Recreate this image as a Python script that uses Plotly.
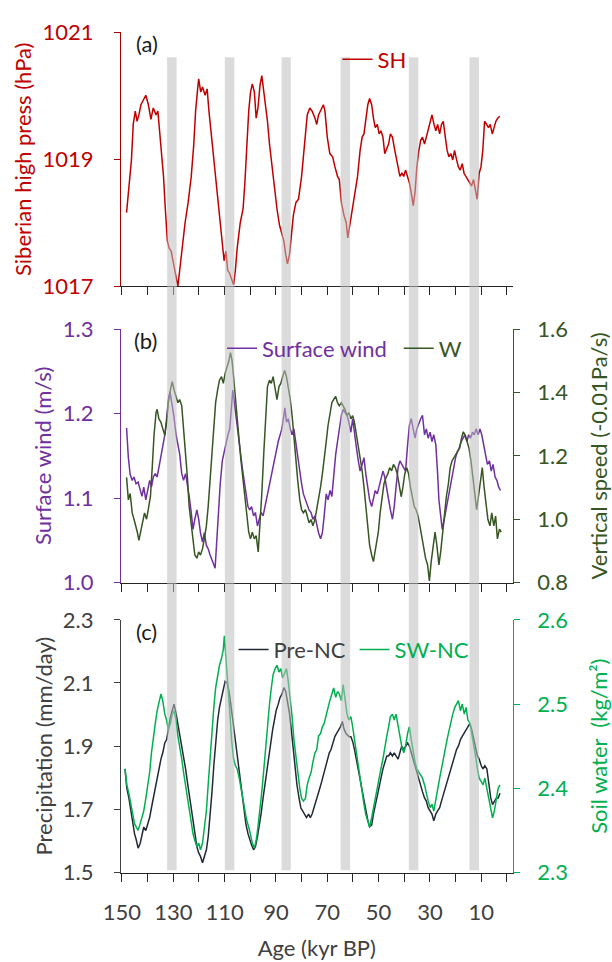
import plotly.graph_objects as go

W, H = 612, 962

# ---------------- data (age in kyr BP) ----------------
sh_age = [148.2, 147.1, 146.3, 145.6, 144.8, 144.1, 143.4, 142.6, 141.6, 140.7,
          139.7, 138.7, 137.8, 136.7, 136.0, 135.3, 134.5, 133.8, 133.1, 132.3,
          131.6, 130.8, 130.1, 129.4, 128.6, 128.2, 127.5, 126.4, 125.4, 124.2,
          123.0, 122.0, 121.3, 120.5, 120.1, 119.3, 118.6, 117.6, 116.8, 116.1,
          115.1, 114.2, 113.2, 112.4, 111.7, 111.0, 110.2, 109.5, 108.8, 108.0,
          107.3, 106.5, 105.8, 105.1, 103.9, 102.8, 102.1, 101.4, 100.6, 99.9,
          99.2, 98.4, 97.7, 97.0, 96.2, 95.5, 94.8, 94.0, 93.3, 92.5,
          91.8, 91.1, 90.3, 89.6, 88.6, 87.7, 86.9, 86.2, 85.5, 84.7,
          84.1, 83.2, 82.2, 81.2, 80.0, 78.8, 77.8, 76.8, 75.9, 74.8,
          74.1, 73.4, 72.6, 71.5, 70.9, 70.0, 69.0, 67.9, 67.0, 66.0,
          65.3, 64.5, 63.5, 62.6, 62.0, 61.4, 60.6, 59.4, 58.2, 57.2,
          56.4, 55.7, 55.0, 54.2, 53.5, 52.7, 52.0, 51.3, 50.5, 49.8,
          49.1, 48.3, 47.6, 46.8, 46.1, 45.4, 44.6, 43.9, 43.2, 42.4,
          41.7, 40.9, 40.2, 39.5, 38.8, 38.0, 37.3, 36.5, 35.8, 35.1,
          34.3, 33.6, 32.9, 32.1, 31.4, 30.7, 29.9, 29.2, 28.4, 27.7,
          27.0, 26.2, 25.5, 24.8, 24.0, 23.3, 22.6, 21.8, 21.1, 20.4,
          19.6, 18.9, 18.2, 17.4, 16.7, 16.0, 15.2, 14.5, 13.8, 13.0,
          12.3, 11.6, 10.8, 10.1, 9.4, 8.7, 7.9, 7.2, 6.5, 5.7,
          5.0, 4.3, 3.5, 2.8]
sh_hpa = [1018.16, 1018.63, 1018.99, 1019.55, 1019.76, 1019.60, 1019.70, 1019.86, 1019.93, 1020.01,
          1019.86, 1019.63, 1019.81, 1019.70, 1019.76, 1019.45, 1019.14, 1018.73, 1018.22, 1017.71,
          1017.60, 1017.55, 1017.40, 1017.25, 1017.04, 1017.00, 1017.25, 1017.70, 1018.00, 1018.32,
          1018.73, 1019.24, 1019.76, 1020.11, 1020.27, 1020.06, 1020.14, 1020.01, 1020.11, 1019.76,
          1019.35, 1018.99, 1018.58, 1018.32, 1018.00, 1017.70, 1017.40, 1017.55, 1017.25, 1017.20,
          1017.10, 1017.02, 1017.25, 1017.60, 1018.00, 1018.22, 1018.63, 1019.24, 1019.76, 1020.06,
          1020.19, 1020.06, 1019.65, 1019.81, 1020.17, 1020.32, 1020.11, 1019.86, 1019.60, 1019.24,
          1018.99, 1018.73, 1018.48, 1018.22, 1017.96, 1017.81, 1017.71, 1017.50, 1017.35, 1017.50,
          1017.71, 1018.12, 1018.32, 1018.37, 1018.73, 1019.24, 1019.70, 1019.81, 1019.76, 1019.65,
          1019.55, 1019.70, 1019.76, 1019.86, 1019.76, 1019.35, 1019.09, 1019.04, 1018.88, 1018.73,
          1018.68, 1018.32, 1018.12, 1018.00, 1017.76, 1017.91, 1018.12, 1018.48, 1018.73, 1019.14,
          1019.35, 1019.40, 1019.60, 1019.86, 1019.96, 1019.86, 1019.65, 1019.50, 1019.55, 1019.40,
          1019.45, 1019.35, 1019.09, 1019.19, 1019.24, 1019.40, 1019.35, 1019.19, 1019.04, 1018.88,
          1018.73, 1018.78, 1018.73, 1018.83, 1018.73, 1018.63, 1018.48, 1018.27, 1018.48, 1018.88,
          1019.14, 1019.30, 1019.35, 1019.24, 1019.35, 1019.45, 1019.60, 1019.70, 1019.55, 1019.45,
          1019.55, 1019.40, 1019.55, 1019.60, 1019.35, 1019.14, 1019.04, 1019.09, 1018.99, 1019.14,
          1018.99, 1018.88, 1018.83, 1018.93, 1018.78, 1018.73, 1018.68, 1018.63, 1018.58, 1018.68,
          1018.53, 1018.37, 1018.78, 1018.88, 1019.14, 1019.60, 1019.55, 1019.50, 1019.55, 1019.40,
          1019.50, 1019.60, 1019.65, 1019.68]

wind_age = [148.2, 147.5, 146.8, 146.0, 145.3, 144.5, 143.7, 142.9, 142.2, 141.5,
            140.7, 140.0, 139.2, 138.5, 137.8, 137.0, 136.3, 135.6, 134.8, 134.1,
            133.3, 132.6, 131.9, 131.3, 130.5, 129.8, 128.9, 128.2, 127.5, 126.7,
            126.0, 125.2, 124.5, 123.8, 123.0, 122.3, 121.6, 120.8, 120.1, 119.4,
            118.6, 117.9, 117.1, 116.4, 115.7, 114.9, 114.2, 113.7, 113.2, 112.4,
            111.7, 110.9, 110.2, 109.5, 108.7, 108.0, 107.3, 106.8, 106.2, 105.5,
            104.8, 103.9, 103.1, 102.4, 101.7, 100.9, 100.2, 99.5, 98.7, 98.0,
            97.2, 96.5, 95.8, 95.0, 94.3, 93.6, 92.8, 92.1, 91.3, 90.6,
            89.9, 89.1, 88.4, 87.7, 86.9, 86.5, 85.9, 85.2, 84.4, 83.7,
            83.0, 82.2, 81.5, 80.7, 80.0, 79.3, 78.5, 77.8, 77.1, 76.3,
            75.6, 74.8, 74.1, 73.4, 72.6, 71.9, 71.2, 70.4, 69.7, 68.9,
            68.2, 67.5, 66.7, 66.0, 65.3, 64.5, 63.8, 63.1, 62.3, 61.6,
            60.8, 60.1, 59.4, 58.6, 57.9, 57.2, 56.4, 55.7, 55.0, 54.2,
            53.5, 52.7, 52.0, 51.3, 50.5, 49.8, 49.1, 48.3, 47.6, 46.8,
            46.1, 45.4, 44.6, 43.9, 43.2, 42.4, 41.7, 41.0, 40.2, 39.5,
            38.7, 38.0, 37.3, 36.5, 35.8, 35.1, 34.3, 33.6, 32.9, 32.1,
            31.4, 30.7, 29.9, 29.2, 28.5, 27.7, 27.0, 26.5, 25.8, 25.2,
            24.4, 23.7, 23.0, 22.2, 21.5, 20.8, 20.0, 19.3, 18.6, 17.8,
            17.1, 16.4, 15.6, 14.9, 14.2, 13.4, 12.7, 12.0, 11.2, 10.5,
            9.8, 9.0, 8.3, 7.6, 6.8, 6.1, 5.4, 4.6, 3.9, 3.2,
            2.5]
wind_ms = [1.183, 1.148, 1.128, 1.121, 1.125, 1.117, 1.119, 1.109, 1.102, 1.113,
           1.098, 1.109, 1.121, 1.113, 1.125, 1.129, 1.125, 1.136, 1.148, 1.163,
           1.175, 1.194, 1.217, 1.226, 1.213, 1.198, 1.175, 1.163, 1.152, 1.129,
           1.121, 1.129, 1.117, 1.102, 1.083, 1.063, 1.075, 1.086, 1.075, 1.059,
           1.048, 1.059, 1.044, 1.040, 1.033, 1.025, 1.021, 1.017, 1.044, 1.079,
           1.117, 1.144, 1.155, 1.163, 1.175, 1.182, 1.213, 1.228, 1.213, 1.194,
           1.175, 1.155, 1.136, 1.121, 1.105, 1.090, 1.086, 1.090, 1.079, 1.083,
           1.067, 1.075, 1.083, 1.079, 1.090, 1.098, 1.113, 1.121, 1.136, 1.144,
           1.155, 1.167, 1.175, 1.182, 1.198, 1.207, 1.190, 1.194, 1.182, 1.175,
           1.182, 1.163, 1.148, 1.132, 1.117, 1.105, 1.098, 1.090, 1.086, 1.083,
           1.075, 1.079, 1.067, 1.059, 1.052, 1.059, 1.079, 1.105, 1.098, 1.109,
           1.102, 1.129, 1.152, 1.167, 1.182, 1.198, 1.205, 1.201, 1.198, 1.190,
           1.178, 1.194, 1.175, 1.159, 1.144, 1.132, 1.140, 1.148, 1.129, 1.113,
           1.098, 1.090, 1.098, 1.109, 1.105, 1.113, 1.121, 1.132, 1.125, 1.109,
           1.098, 1.086, 1.075, 1.090, 1.113, 1.136, 1.144, 1.140, 1.136, 1.132,
           1.163, 1.186, 1.194, 1.182, 1.171, 1.182, 1.190, 1.194, 1.198, 1.175,
           1.182, 1.171, 1.178, 1.167, 1.175, 1.163, 1.129, 1.098, 1.079, 1.063,
           1.075, 1.086, 1.098, 1.113, 1.125, 1.136, 1.148, 1.155, 1.159, 1.167,
           1.171, 1.175, 1.167, 1.175, 1.171, 1.178, 1.175, 1.182, 1.175, 1.182,
           1.175, 1.163, 1.148, 1.140, 1.144, 1.132, 1.140, 1.125, 1.121, 1.113,
           1.109]

w_age = [148.2, 147.5, 146.8, 146.0, 145.3, 144.5, 144.0, 143.4, 142.6, 141.9,
         141.2, 140.4, 139.7, 138.9, 138.2, 137.5, 136.7, 136.3, 135.6, 134.8,
         134.1, 133.3, 132.6, 131.9, 131.1, 130.4, 129.7, 128.9, 128.2, 127.5,
         126.7, 126.0, 125.2, 124.5, 123.8, 123.0, 122.3, 121.6, 120.8, 120.1,
         119.4, 118.6, 117.9, 117.1, 116.4, 115.7, 114.9, 114.2, 113.5, 112.7,
         112.0, 111.2, 110.5, 109.8, 109.0, 108.3, 107.7, 107.1, 106.5, 105.8,
         105.1, 104.3, 103.6, 102.8, 102.1, 101.4, 100.6, 99.9, 99.2, 98.4,
         97.7, 96.9, 96.2, 95.5, 94.7, 94.0, 93.3, 92.5, 91.8, 91.1,
         90.3, 89.6, 88.8, 88.1, 87.4, 86.6, 85.9, 85.2, 84.4, 83.7,
         83.0, 82.2, 81.5, 80.7, 80.0, 79.3, 78.5, 77.8, 77.1, 76.3,
         75.6, 74.8, 74.1, 73.4, 72.6, 71.9, 71.2, 70.4, 69.7, 69.0,
         68.2, 67.5, 66.7, 66.0, 65.3, 64.5, 63.8, 63.1, 62.3, 61.6,
         60.8, 60.1, 59.4, 58.6, 57.9, 57.2, 56.4, 55.7, 55.0, 54.2,
         53.5, 52.7, 52.0, 51.6, 50.8, 50.1, 49.4, 48.6, 47.9, 47.1,
         46.4, 45.7, 44.9, 44.2, 43.5, 42.7, 42.0, 41.2, 40.5, 39.8,
         39.0, 38.3, 37.6, 36.8, 36.1, 35.4, 34.6, 33.9, 33.1, 32.4,
         31.7, 30.9, 30.2, 29.5, 28.7, 28.0, 27.3, 26.5, 25.8, 25.0,
         24.3, 23.6, 22.8, 22.1, 21.4, 20.6, 19.9, 19.2, 18.4, 17.7,
         17.0, 16.2, 15.5, 14.8, 14.0, 13.3, 12.6, 11.8, 11.1, 10.4,
         9.6, 8.9, 8.1, 7.4, 6.6, 5.9, 5.1, 4.4, 3.7, 2.9,
         2.2]
w_speed = [1.132, 1.061, 1.081, 1.020, 1.000, 0.979, 0.959, 0.933, 0.969, 0.989,
           1.020, 1.000, 1.030, 1.071, 1.163, 1.265, 1.337, 1.347, 1.317, 1.306,
           1.286, 1.265, 1.306, 1.368, 1.409, 1.434, 1.409, 1.388, 1.368, 1.378,
           1.358, 1.286, 1.214, 1.132, 1.040, 0.979, 0.918, 0.887, 0.877, 0.897,
           0.887, 0.907, 0.938, 0.979, 1.040, 1.122, 1.214, 1.296, 1.368, 1.409,
           1.439, 1.450, 1.429, 1.460, 1.480, 1.501, 1.526, 1.501, 1.450, 1.378,
           1.317, 1.245, 1.184, 1.122, 1.061, 1.010, 0.959, 0.938, 0.959, 0.938,
           0.948, 0.897, 0.979, 1.081, 1.214, 1.317, 1.419, 1.439, 1.429, 1.450,
           1.409, 1.378, 1.419, 1.429, 1.450, 1.470, 1.450, 1.419, 1.378, 1.327,
           1.255, 1.184, 1.122, 1.061, 1.030, 1.020, 1.030, 1.010, 0.989, 0.999,
           0.979, 0.999, 1.030, 1.061, 1.102, 1.143, 1.184, 1.245, 1.296, 1.337,
           1.368, 1.378, 1.388, 1.368, 1.358, 1.368, 1.358, 1.347, 1.327, 1.337,
           1.317, 1.327, 1.306, 1.265, 1.225, 1.194, 1.153, 1.102, 1.040, 0.979,
           0.918, 0.887, 0.866, 0.887, 0.928, 0.959, 1.020, 1.071, 1.112, 1.132,
           1.143, 1.163, 1.153, 1.173, 1.163, 1.143, 1.112, 1.071, 1.102, 1.143,
           1.163, 1.143, 1.102, 1.071, 1.040, 1.030, 1.010, 0.979, 0.938, 0.907,
           0.877, 0.856, 0.805, 0.866, 0.918, 0.959, 0.918, 0.856, 0.897, 0.959,
           1.020, 1.071, 1.112, 1.163, 1.184, 1.194, 1.204, 1.214, 1.225, 1.255,
           1.276, 1.265, 1.245, 1.225, 1.184, 1.132, 1.081, 1.030, 1.071, 1.122,
           1.163, 1.102, 1.040, 0.999, 0.979, 1.020, 0.979, 1.010, 0.938, 0.969,
           0.959]

pre_age = [148.8, 148.1, 147.3, 146.6, 145.9, 145.1, 144.4, 143.7, 142.9, 142.2,
           141.5, 140.7, 140.0, 139.2, 138.5, 137.8, 137.0, 136.3, 135.6, 134.8,
           134.1, 133.3, 132.6, 131.9, 131.1, 130.4, 129.7, 128.9, 128.2, 127.5,
           126.7, 126.0, 125.2, 124.5, 123.8, 123.0, 122.3, 121.6, 120.8, 120.1,
           119.4, 118.6, 117.9, 117.1, 116.4, 115.7, 114.9, 114.2, 113.5, 112.7,
           112.0, 111.2, 110.5, 109.8, 109.0, 108.3, 107.6, 106.8, 106.1, 105.3,
           104.6, 103.9, 103.1, 102.4, 101.7, 100.9, 100.2, 99.5, 98.7, 98.0,
           97.2, 96.5, 95.8, 95.0, 94.3, 93.6, 92.8, 92.1, 91.3, 90.6,
           89.9, 89.1, 88.4, 87.7, 86.9, 86.2, 85.5, 84.7, 84.0, 83.2,
           82.5, 81.8, 81.0, 80.3, 79.6, 78.8, 78.1, 77.3, 76.6, 75.9,
           75.1, 74.4, 73.7, 72.9, 72.2, 71.5, 70.7, 70.0, 69.2, 68.5,
           67.8, 67.0, 66.3, 65.6, 64.8, 64.1, 63.5, 62.7, 62.0, 61.4,
           60.8, 60.1, 59.4, 58.6, 57.9, 57.2, 56.4, 55.7, 55.0, 54.2,
           53.5, 52.7, 52.0, 51.3, 50.5, 49.8, 49.1, 48.3, 47.6, 46.8,
           46.1, 45.4, 44.6, 43.9, 43.2, 42.4, 41.7, 41.0, 40.2, 39.5,
           38.7, 38.0, 37.3, 36.5, 35.8, 35.1, 34.3, 33.6, 32.9, 32.1,
           31.4, 30.7, 29.9, 29.2, 28.5, 27.7, 27.0, 26.2, 25.5, 24.8,
           24.0, 23.3, 22.5, 21.8, 21.1, 20.3, 19.6, 18.9, 18.1, 17.4,
           16.6, 15.9, 15.2, 14.4, 13.7, 13.0, 12.2, 11.5, 10.8, 10.0,
           9.3, 8.6, 7.8, 7.1, 6.3, 5.6, 4.9, 4.1, 3.4, 2.7]
pre_mm = [1.828, 1.767, 1.736, 1.695, 1.654, 1.623, 1.603, 1.577, 1.592, 1.623,
          1.644, 1.633, 1.654, 1.674, 1.705, 1.736, 1.767, 1.797, 1.828, 1.859,
          1.879, 1.910, 1.921, 1.962, 1.992, 2.013, 2.033, 2.003, 1.972, 1.941,
          1.900, 1.869, 1.828, 1.787, 1.746, 1.695, 1.654, 1.613, 1.582, 1.562,
          1.551, 1.531, 1.551, 1.572, 1.613, 1.674, 1.756, 1.838, 1.921, 1.982,
          2.023, 2.054, 2.085, 2.105, 2.100, 2.074, 2.033, 1.982, 1.931, 1.890,
          1.838, 1.787, 1.736, 1.695, 1.654, 1.623, 1.603, 1.587, 1.572, 1.582,
          1.613, 1.644, 1.685, 1.736, 1.777, 1.828, 1.869, 1.910, 1.951, 1.982,
          2.013, 2.033, 2.054, 2.064, 2.085, 2.074, 2.044, 2.003, 1.951, 1.890,
          1.828, 1.777, 1.736, 1.705, 1.695, 1.685, 1.674, 1.685, 1.674, 1.685,
          1.705, 1.726, 1.746, 1.767, 1.787, 1.808, 1.828, 1.849, 1.879, 1.890,
          1.910, 1.931, 1.941, 1.951, 1.962, 1.978, 1.955, 1.940, 1.935, 1.930,
          1.930, 1.915, 1.890, 1.855, 1.820, 1.785, 1.750, 1.720, 1.690, 1.665,
          1.645, 1.650, 1.685, 1.715, 1.746, 1.767, 1.797, 1.828, 1.849, 1.869,
          1.869, 1.879, 1.869, 1.879, 1.869, 1.859, 1.879, 1.900, 1.890, 1.900,
          1.910, 1.900, 1.879, 1.859, 1.838, 1.818, 1.797, 1.777, 1.756, 1.736,
          1.726, 1.705, 1.695, 1.685, 1.664, 1.685, 1.695, 1.705, 1.726, 1.746,
          1.767, 1.787, 1.808, 1.828, 1.849, 1.869, 1.890, 1.900, 1.921, 1.931,
          1.941, 1.951, 1.962, 1.972, 1.951, 1.921, 1.890, 1.869, 1.859, 1.838,
          1.828, 1.838, 1.828, 1.777, 1.736, 1.715, 1.726, 1.736, 1.736, 1.751]

sw_age = [148.8, 148.1, 147.3, 146.6, 145.9, 145.1, 144.4, 143.7, 142.9, 142.2,
          141.5, 140.7, 140.0, 139.2, 138.5, 137.8, 137.0, 136.3, 135.6, 134.8,
          134.1, 133.3, 132.6, 131.9, 131.1, 130.4, 129.7, 128.9, 128.2, 127.5,
          126.7, 126.0, 125.2, 124.5, 123.8, 123.0, 122.3, 121.6, 120.8, 120.1,
          119.4, 118.6, 117.9, 117.1, 116.4, 115.7, 114.9, 114.2, 113.5, 112.7,
          112.0, 111.2, 110.5, 110.1, 109.5, 108.7, 108.0, 107.3, 106.5, 105.8,
          105.1, 104.3, 103.6, 102.8, 102.1, 101.4, 100.6, 99.9, 99.2, 98.4,
          97.7, 97.0, 96.2, 95.5, 94.7, 94.0, 93.3, 92.5, 91.8, 91.1,
          90.3, 89.6, 88.8, 88.1, 87.4, 86.6, 85.9, 85.2, 84.4, 83.7,
          83.0, 82.2, 81.5, 80.7, 80.0, 79.3, 78.5, 77.8, 77.1, 76.3,
          75.6, 74.8, 74.1, 73.4, 72.6, 71.9, 71.2, 70.4, 69.7, 69.0,
          68.2, 67.5, 66.7, 66.0, 65.3, 64.5, 63.8, 63.1, 62.3, 61.6,
          60.8, 60.1, 59.4, 58.6, 57.9, 57.2, 56.4, 55.7, 55.0, 54.2,
          53.5, 52.7, 52.0, 51.3, 50.5, 49.8, 49.1, 48.3, 47.6, 46.8,
          46.1, 45.4, 44.6, 43.9, 43.2, 42.4, 41.7, 41.0, 40.2, 39.5,
          38.7, 38.0, 37.3, 36.5, 35.8, 35.1, 34.3, 33.6, 32.9, 32.1,
          31.4, 30.7, 29.9, 29.2, 28.5, 27.7, 27.0, 26.2, 25.5, 24.8,
          24.0, 23.3, 22.5, 21.8, 21.1, 20.3, 19.6, 18.9, 18.1, 17.4,
          16.6, 15.9, 15.2, 14.4, 13.7, 13.0, 12.2, 11.5, 10.8, 10.0,
          9.3, 8.6, 7.8, 7.1, 6.3, 5.6, 4.9, 4.1, 3.4, 2.7]
sw_kgm2 = [2.423, 2.404, 2.394, 2.381, 2.369, 2.358, 2.354, 2.350, 2.358, 2.365,
           2.373, 2.388, 2.404, 2.419, 2.442, 2.462, 2.477, 2.492, 2.500, 2.512,
           2.504, 2.488, 2.481, 2.469, 2.477, 2.488, 2.492, 2.481, 2.462, 2.450,
           2.435, 2.419, 2.404, 2.388, 2.373, 2.358, 2.346, 2.338, 2.331, 2.335,
           2.327, 2.335, 2.350, 2.373, 2.404, 2.435, 2.465, 2.496, 2.519, 2.535,
           2.546, 2.554, 2.565, 2.581, 2.558, 2.527, 2.492, 2.458, 2.435, 2.427,
           2.423, 2.412, 2.400, 2.385, 2.373, 2.362, 2.354, 2.342, 2.335, 2.329,
           2.338, 2.354, 2.373, 2.396, 2.423, 2.450, 2.477, 2.500, 2.519, 2.535,
           2.542, 2.546, 2.538, 2.542, 2.531, 2.538, 2.542, 2.527, 2.508, 2.485,
           2.458, 2.435, 2.415, 2.400, 2.388, 2.385, 2.388, 2.404, 2.412, 2.419,
           2.431, 2.442, 2.446, 2.462, 2.465, 2.473, 2.477, 2.488, 2.496, 2.504,
           2.512, 2.519, 2.508, 2.515, 2.512, 2.504, 2.523, 2.508, 2.488, 2.481,
           2.485, 2.473, 2.458, 2.442, 2.423, 2.408, 2.392, 2.381, 2.369, 2.362,
           2.354, 2.365, 2.377, 2.388, 2.400, 2.412, 2.423, 2.435, 2.450, 2.462,
           2.473, 2.485, 2.488, 2.481, 2.488, 2.473, 2.458, 2.450, 2.442, 2.450,
           2.465, 2.473, 2.458, 2.442, 2.431, 2.423, 2.419, 2.415, 2.412, 2.404,
           2.392, 2.385, 2.377, 2.381, 2.373, 2.388, 2.400, 2.412, 2.423, 2.435,
           2.446, 2.458, 2.469, 2.481, 2.488, 2.496, 2.500, 2.504, 2.492, 2.500,
           2.488, 2.496, 2.481, 2.477, 2.465, 2.454, 2.438, 2.423, 2.412, 2.408,
           2.404, 2.412, 2.400, 2.388, 2.373, 2.365, 2.373, 2.388, 2.400, 2.404]

# highlighted intervals (kyr BP)
band_start = [132.4, 109.9, 87.8, 64.8, 38.2, 14.6]
band_end = [128.7, 106.2, 84.2, 61.1, 34.5, 10.9]

age_ticks = list(range(150, -1, -10))
age_labels = [str(v) if (150 - v) % 20 == 0 else "" for v in age_ticks]

# ---------------- styling ----------------
FONT = "Lato"
FS = 22
RED, RED_AX = "#c00000", "#a50000"
PURPLE = "#7030a0"
DKGREEN = "#375623"
GREY = "#404040"
BLACK_LINE = "#222a35"
GREEN = "#00b050"
AX = "#262626"

X_RANGE = [150.375, -2.25]
X_DOM = [107 / W, 514 / W]


def ypos(px):
    return 1 - px / H


def xpos(px):
    return px / W


fig = go.Figure()
fig.add_trace(go.Scatter(x=sh_age, y=sh_hpa, xaxis="x", yaxis="y", mode="lines",
                         line=dict(color=RED, width=1.5),
                         name=f'<span style="color:{RED}">SH</span>', legend="legend"))
fig.add_trace(go.Scatter(x=wind_age, y=wind_ms, xaxis="x2", yaxis="y2", mode="lines",
                         line=dict(color=PURPLE, width=1.5),
                         name=f'<span style="color:{PURPLE}">Surface wind</span>', legend="legend2"))
fig.add_trace(go.Scatter(x=w_age, y=w_speed, xaxis="x2", yaxis="y3", mode="lines",
                         line=dict(color=DKGREEN, width=1.5),
                         name=f'<span style="color:{DKGREEN}">W</span>', legend="legend3"))
fig.add_trace(go.Scatter(x=pre_age, y=pre_mm, xaxis="x3", yaxis="y4", mode="lines",
                         line=dict(color=BLACK_LINE, width=1.5),
                         name=f'<span style="color:{GREY}">Pre-NC</span>', legend="legend4"))
fig.add_trace(go.Scatter(x=sw_age, y=sw_kgm2, xaxis="x3", yaxis="y5", mode="lines",
                         line=dict(color=GREEN, width=1.5),
                         name=f'<span style="color:{GREEN}">SW-NC</span>', legend="legend5"))


def xaxis(anchor, labels=False):
    return dict(domain=X_DOM, range=X_RANGE, anchor=anchor, showline=True, linecolor=AX,
                linewidth=1.3, ticks="outside", ticklen=8, tickwidth=1.3, tickcolor=AX,
                tickmode="array", tickvals=age_ticks, ticktext=age_labels,
                showticklabels=labels, showgrid=False, zeroline=False,
                ticklabelstandoff=12,
                tickfont=dict(family=FONT, size=FS, color=GREY))


def yaxis(dom, rng, vals, color, label_color, title, standoff, side="left",
          anchor=None, overlay=None, fmt=None, label_gap=16):
    d = dict(domain=dom, range=rng, tickmode="array", tickvals=vals, showline=True,
             linecolor=color, linewidth=1.3, ticks="outside", ticklen=6, tickwidth=1.3,
             tickcolor=color, showgrid=False, zeroline=False, side=side,
             ticklabelstandoff=label_gap,
             tickfont=dict(family=FONT, size=FS, color=label_color),
             title=dict(text=title, font=dict(family=FONT, size=FS, color=label_color),
                        standoff=standoff))
    if anchor:
        d["anchor"] = anchor
    if overlay:
        d["overlaying"] = overlay
    if fmt:
        d["tickformat"] = fmt
    return d


dom_a = [ypos(280), ypos(19)]
dom_b = [ypos(585), ypos(324.3)]
dom_c = [ypos(883.3), ypos(623.3)]

layout = dict(
    width=W, height=H, margin=dict(l=0, r=0, t=0, b=0),
    paper_bgcolor="white", plot_bgcolor="rgba(0,0,0,0)",
    font=dict(family=FONT, size=FS, color=GREY),
    xaxis=xaxis("y"),
    xaxis2=xaxis("y2"),
    xaxis3=dict(xaxis("y4", labels=True),
                title=dict(text="Age (kyr BP)", standoff=16,
                           font=dict(family=FONT, size=FS, color=GREY))),
    yaxis=yaxis(dom_a, [1017, 1021], [1017, 1019, 1021], RED_AX, RED,
                "Siberian high press (hPa)", 4, anchor="x"),
    yaxis2=yaxis(dom_b, [1.0, 1.3], [1.0, 1.1, 1.2, 1.3], PURPLE, PURPLE,
                 "Surface wind (m/s)", 4, anchor="x2", fmt=".1f"),
    yaxis3=yaxis(dom_b, [0.8, 1.6], [0.8, 1.0, 1.2, 1.4, 1.6], DKGREEN, DKGREEN,
                 "Vertical speed (-0.01Pa/s)", 28, side="right", anchor="x2",
                 overlay="y2", fmt=".1f", label_gap=13),
    yaxis4=yaxis(dom_c, [1.5, 2.3], [1.5, 1.7, 1.9, 2.1, 2.3], GREY, GREY,
                 "Precipitation (mm/day)", 4, anchor="x3", fmt=".1f"),
    yaxis5=yaxis(dom_c, [2.3, 2.6], [2.3, 2.4, 2.5, 2.6], GREEN, GREEN,
                 "Soil water\u00a0 (kg/m²)", 28, side="right", anchor="x3",
                 overlay="y4", fmt=".1f", label_gap=13),
    showlegend=True,
)

legend_pos = {"legend": (337, 46.7), "legend2": (217, 344), "legend3": (400.6, 344),
              "legend4": (229, 654), "legend5": (354.7, 654)}
for key, (lx, ly) in legend_pos.items():
    layout[key] = dict(x=xpos(lx - 5), y=ypos(ly), xanchor="left", yanchor="middle",
                       bgcolor="rgba(0,0,0,0)", borderwidth=0,
                       font=dict(family=FONT, size=FS), itemwidth=30)

fig.update_layout(**layout)

# panel letters
for text, lx, ly in [("(a)", 121, 30), ("(b)", 118, 336), ("(c)", 121, 635)]:
    fig.add_annotation(text=text, x=xpos(lx), y=ypos(ly), xref="paper", yref="paper",
                       xanchor="left", yanchor="middle", showarrow=False,
                       font=dict(family=FONT, size=FS, color="#1a1a1a"))

# grey highlight bands spanning all three panels
for s, e in zip(band_start, band_end):
    fig.add_shape(type="rect", xref="x", yref="paper", x0=s, x1=e,
                  y0=ypos(881), y1=ypos(44.5), layer="above",
                  fillcolor="rgb(190,190,190)", opacity=0.55, line=dict(width=0))

fig.write_html("out.html")
